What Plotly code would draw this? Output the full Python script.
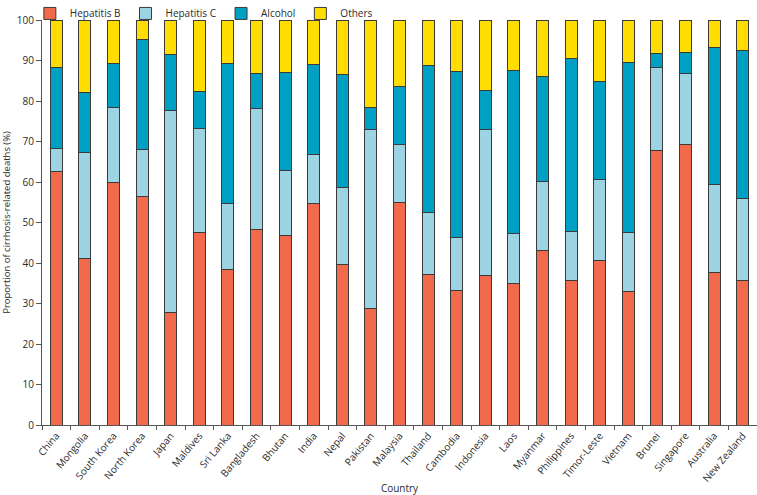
import plotly.graph_objects as go

countries = ["China", "Mongolia", "South Korea", "North Korea", "Japan", "Maldives",
             "Sri Lanka", "Bangladesh", "Bhutan", "India", "Nepal", "Pakistan",
             "Malaysia", "Thailand", "Cambodia", "Indonesia", "Laos", "Myanmar",
             "Philippines", "Timor-Leste", "Vietnam", "Brunei", "Singapore",
             "Australia", "New Zealand"]

# cumulative tops
cum_hbv = [62.6, 41.2, 59.9, 56.3, 27.8, 47.6, 38.4, 48.2, 46.8, 54.6, 39.7, 28.7,
           55.0, 37.2, 33.3, 37.0, 35.0, 43.0, 35.8, 40.6, 33.0, 67.8, 69.3, 37.7, 35.7]
cum_hcv = [68.2, 67.2, 78.4, 68.1, 77.7, 73.3, 54.6, 78.2, 62.9, 66.9, 58.7, 72.9,
           69.2, 52.5, 46.4, 72.9, 47.3, 60.2, 47.7, 60.7, 47.6, 88.2, 86.8, 59.3, 56.0]
cum_alc = [88.3, 82.1, 89.2, 95.3, 91.4, 82.4, 89.2, 86.8, 87.1, 89.1, 86.6, 78.4,
           83.7, 88.7, 87.2, 82.7, 87.6, 86.1, 90.4, 84.9, 89.5, 91.7, 91.9, 93.3, 92.4]

hepatitis_b = cum_hbv
hepatitis_c = [round(c - b, 1) for c, b in zip(cum_hcv, cum_hbv)]
alcohol = [round(a - c, 1) for a, c in zip(cum_alc, cum_hcv)]
others = [round(100 - a, 1) for a in cum_alc]

y_ticks = list(range(0, 101, 10))

series = [
    ("Hepatitis B", hepatitis_b, "#F26A4B"),
    ("Hepatitis C", hepatitis_c, "#9DD4E4"),
    ("Alcohol", alcohol, "#00A0C4"),
    ("Others", others, "#FFDD00"),
]

fig = go.Figure()
for name, vals, col in series:
    fig.add_trace(go.Bar(
        x=countries, y=vals, name=name,
        marker=dict(color=col, line=dict(color="#3a3a3a", width=1)),
        width=0.42,
    ))

font_family = "Open Sans, Noto Sans, sans-serif"
txt = "#2b2b2b"
fig.update_layout(
    barmode="stack",
    width=757, height=495,
    margin=dict(l=42, r=0, t=20, b=70, autoexpand=False),
    paper_bgcolor="white", plot_bgcolor="white",
    font=dict(family=font_family, size=10, color=txt),
    showlegend=True,
    legend=dict(orientation="h", x=-0.017, y=1.052, xanchor="left", yanchor="top",
                font=dict(size=10, color=txt), itemwidth=30,
                traceorder="normal", tracegroupgap=0, bgcolor="rgba(0,0,0,0)"),
    xaxis=dict(
        range=[-0.5, len(countries) - 0.5],
        showline=True, linecolor="#555555", linewidth=1,
        ticks="outside", tickson="boundaries", ticklen=4, tickcolor="#555555",
        tickangle=-50, tickfont=dict(size=10, color=txt),
        title=dict(text="Country", font=dict(size=10, color=txt), standoff=6),
        showgrid=False, automargin=False,
    ),
    yaxis=dict(
        range=[0, 100], tickvals=y_ticks,
        showline=True, linecolor="#555555", linewidth=1,
        ticks="outside", ticklen=5, tickcolor="#555555",
        tickfont=dict(size=10, color=txt),
        title=dict(text="Proportion of cirrhosis-related deaths (%)", font=dict(size=9.5, color=txt), standoff=6),
        showgrid=False, zeroline=False, automargin=False,
    ),
)

fig.write_html("out.html", config={"displayModeBar": False},
               post_script="document.body.style.margin='0';")
